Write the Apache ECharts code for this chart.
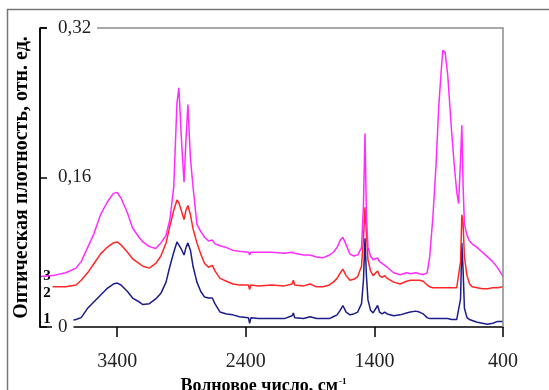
<!DOCTYPE html>
<html>
<head>
<meta charset="utf-8">
<script src="https://cdn.jsdelivr.net/npm/echarts@6/dist/echarts.min.js"></script>
<style>
  html, body { margin: 0; padding: 0; background: #fff; }
  #chart { width: 549px; height: 390px; }
</style>
</head>
<body>
<div id="chart"></div>
<script>
// wavenumber, cm-1 (descending)
const wavenumbers = [
  4000, 3900, 3800, 3720, 3680, 3630, 3580, 3530, 3480, 3430, 3400, 3370, 3320, 3280, 3230, 3200,
  3150, 3100, 3060, 3020, 2990, 2960, 2935, 2920, 2900, 2880, 2865, 2850, 2830, 2810, 2780, 2750,
  2720, 2690, 2660, 2640, 2600, 2550, 2500, 2450, 2380, 2370, 2360, 2300, 2200, 2100, 2040, 2030,
  2020, 1950, 1900, 1850, 1800, 1750, 1720, 1690, 1665, 1645, 1620, 1590, 1560, 1530, 1500, 1485,
  1473, 1462, 1450, 1430, 1410, 1395, 1375, 1360, 1340, 1320, 1300, 1250, 1200, 1150, 1120, 1080,
  1050, 1020, 990, 970, 945, 920, 900, 880, 868, 850, 830, 800, 780, 760, 745, 730,
  720, 710, 700, 680, 660, 640, 600, 560, 520, 480, 440, 400
]

const curve1 = [
  0.005, 0.005, 0.006, 0.008, 0.010, 0.020, 0.027, 0.034, 0.041, 0.046, 0.047, 0.045, 0.038, 0.031, 0.027, 0.024,
  0.025, 0.030, 0.036, 0.048, 0.065, 0.080, 0.091, 0.089, 0.083, 0.077, 0.085, 0.090, 0.082, 0.065, 0.048, 0.038,
  0.032, 0.031, 0.031, 0.025, 0.016, 0.014, 0.013, 0.011, 0.010, 0.004, 0.010, 0.009, 0.009, 0.009, 0.012, 0.015,
  0.010, 0.009, 0.011, 0.009, 0.009, 0.009, 0.011, 0.013, 0.018, 0.023, 0.016, 0.013, 0.014, 0.016, 0.025, 0.050,
  0.095, 0.055, 0.029, 0.018, 0.015, 0.016, 0.023, 0.016, 0.014, 0.016, 0.014, 0.012, 0.013, 0.015, 0.016, 0.017,
  0.016, 0.014, 0.010, 0.009, 0.009, 0.009, 0.009, 0.009, 0.009, 0.009, 0.009, 0.008, 0.008, 0.008, 0.008, 0.030,
  0.090, 0.060, 0.020, 0.010, 0.008, 0.007, 0.005, 0.004, 0.003, 0.004, 0.006, 0.006
]

const curve2 = [
  0.042, 0.043, 0.043, 0.045, 0.050, 0.058, 0.068, 0.078, 0.085, 0.090, 0.091, 0.088, 0.080, 0.073, 0.068, 0.065,
  0.063, 0.068, 0.076, 0.090, 0.108, 0.125, 0.136, 0.133, 0.124, 0.115, 0.125, 0.130, 0.120, 0.105, 0.090, 0.078,
  0.068, 0.064, 0.066, 0.060, 0.052, 0.049, 0.046, 0.045, 0.045, 0.040, 0.045, 0.044, 0.045, 0.044, 0.046, 0.050,
  0.045, 0.044, 0.046, 0.043, 0.043, 0.045, 0.048, 0.052, 0.058, 0.062, 0.055, 0.050, 0.051, 0.054, 0.065, 0.095,
  0.128, 0.100, 0.072, 0.060, 0.055, 0.053, 0.060, 0.055, 0.053, 0.055, 0.052, 0.048, 0.046, 0.049, 0.050, 0.050,
  0.050, 0.049, 0.045, 0.043, 0.042, 0.042, 0.042, 0.042, 0.042, 0.042, 0.042, 0.042, 0.042, 0.042, 0.043, 0.070,
  0.120, 0.110, 0.075, 0.055, 0.046, 0.043, 0.042, 0.041, 0.041, 0.042, 0.042, 0.043
]

const curve3 = [
  0.054, 0.055, 0.058, 0.063, 0.070, 0.085, 0.100, 0.120, 0.133, 0.143, 0.144, 0.138, 0.122, 0.106, 0.096, 0.091,
  0.086, 0.084, 0.090, 0.098, 0.115, 0.150, 0.240, 0.256, 0.200, 0.155, 0.200, 0.238, 0.180, 0.150, 0.110, 0.102,
  0.096, 0.092, 0.093, 0.089, 0.087, 0.085, 0.082, 0.081, 0.080, 0.077, 0.080, 0.080, 0.080, 0.079, 0.080, 0.082,
  0.079, 0.077, 0.077, 0.075, 0.074, 0.077, 0.080, 0.085, 0.093, 0.096, 0.088, 0.078, 0.076, 0.077, 0.085, 0.130,
  0.207, 0.120, 0.085, 0.076, 0.072, 0.073, 0.074, 0.070, 0.068, 0.066, 0.064, 0.058, 0.056, 0.058, 0.057, 0.058,
  0.057, 0.056, 0.058, 0.075, 0.118, 0.175, 0.235, 0.275, 0.296, 0.294, 0.270, 0.210, 0.175, 0.145, 0.132, 0.180,
  0.216, 0.150, 0.110, 0.098, 0.092, 0.089, 0.085, 0.080, 0.075, 0.070, 0.063, 0.054
]

const curveNames = ['1', '2', '3']
const curveColors = ['#1c1c8a', '#ff2626', '#ff2bff']
// where the curve numbers sit (left edge)
const curveLabelPos = [[3946, 0.008], [3946, 0.036], [3946, 0.054]]

const xTicks = [3400, 2400, 1400, 400]
const xMin = 400, xMax = 4000
const yMin = 0, yMax = 0.32

const serif = "'Liberation Serif', 'DejaVu Serif', serif"

const chart = echarts.init(document.getElementById('chart'))

const series = [curve1, curve2, curve3].map((vals, i) => ({
  name: curveNames[i],
  type: 'line',
  data: wavenumbers.map((w, j) => [w, vals[j]]),
  symbol: 'none',
  lineStyle: { color: curveColors[i], width: 1.5 },
  z: 3 + i,
  markPoint: {
    symbol: 'rect',
    symbolSize: 0,
    silent: true,
    label: {
      show: true,
      formatter: curveNames[i],
      color: '#000',
      fontFamily: serif,
      fontWeight: 'bold',
      fontSize: 15,
      backgroundColor: '#fff',
      padding: [0, 2]
    },
    data: [{ coord: curveLabelPos[i] }]
  }
}))

chart.setOption({
  animation: false,
  grid: { left: 40, right: 46, top: 28, bottom: 63, outerBoundsMode: 'none' },
  xAxis: {
    type: 'value',
    inverse: true,
    min: xMin,
    max: xMax,
    interval: 1000,
    name: 'Волновое число, см{sup|-1}',
    nameLocation: 'middle',
    nameGap: 47,
    nameTextStyle: {
      fontFamily: serif, fontWeight: 'bold', fontSize: 18, color: '#000',
      padding: [0, 16, 0, 0],
      rich: { sup: { fontFamily: serif, fontSize: 9, fontWeight: 'bold', color: '#000', verticalAlign: 'top', padding: [0, 0, 9, 1] } }
    },
    axisLine: { onZero: false, lineStyle: { color: '#000', width: 1.5 } },
    axisTick: { customValues: xTicks, length: 10, lineStyle: { color: '#000', width: 1.5 } },
    axisLabel: {
      customValues: xTicks,
      margin: 25,
      fontFamily: serif, fontSize: 20, color: '#222',
      formatter: (v) => String(v)
    },
    splitLine: { show: false },
    z: 10
  },
  yAxis: {
    type: 'value',
    min: yMin,
    max: yMax,
    interval: 0.16,
    name: 'Оптическая плотность, отн. ед.',
    nameLocation: 'middle',
    nameGap: 5,
    nameTextStyle: { fontFamily: serif, fontWeight: 'bold', fontSize: 20, color: '#000' },
    axisLine: { show: true, onZero: false, lineStyle: { color: '#000', width: 1.5 } },
    axisTick: { inside: true, length: 7, lineStyle: { color: '#000', width: 1.5 } },
    axisLabel: {
      inside: true,
      margin: 12,
      fontFamily: serif, fontSize: 19, color: '#222',
      backgroundColor: '#fff',
      padding: [4, 6, 0, 6],
      formatter: (v) => (v === 0 ? '0' : v.toFixed(2).replace('.', ','))
    },
    splitLine: { show: false },
    z: 10
  },
  series: series
})

// plot frame: gray top/right, black left; outer picture border
const p0 = chart.convertToPixel({ gridIndex: 0 }, [xMax, yMin])
const p1 = chart.convertToPixel({ gridIndex: 0 }, [xMin, yMax])
chart.setOption({
  graphic: [
    {
      type: 'rect', silent: true, z: -10,
      shape: { x: 7.5, y: 9.5, width: 600, height: 400 },
      style: { fill: 'transparent', stroke: '#777', lineWidth: 1.5 }
    },
    {
      type: 'polyline', silent: true, z: 20,
      shape: { points: [[p0[0] + 57, p1[1]], [p1[0], p1[1]], [p1[0], p0[1]]] },
      style: { fill: 'transparent', stroke: '#8c8c8c', lineWidth: 1.5 }
    },
    {
      type: 'line', silent: true, z: 50,
      shape: { x1: p0[0], y1: p1[1], x2: p0[0], y2: p0[1] },
      style: { stroke: '#000', lineWidth: 1.5 }
    },
    {
      type: 'line', silent: true, z: 50,
      shape: { x1: p0[0], y1: p1[1], x2: p0[0] + 7, y2: p1[1] },
      style: { stroke: '#000', lineWidth: 1.5 }
    }
  ]
})
</script>
</body>
</html>
